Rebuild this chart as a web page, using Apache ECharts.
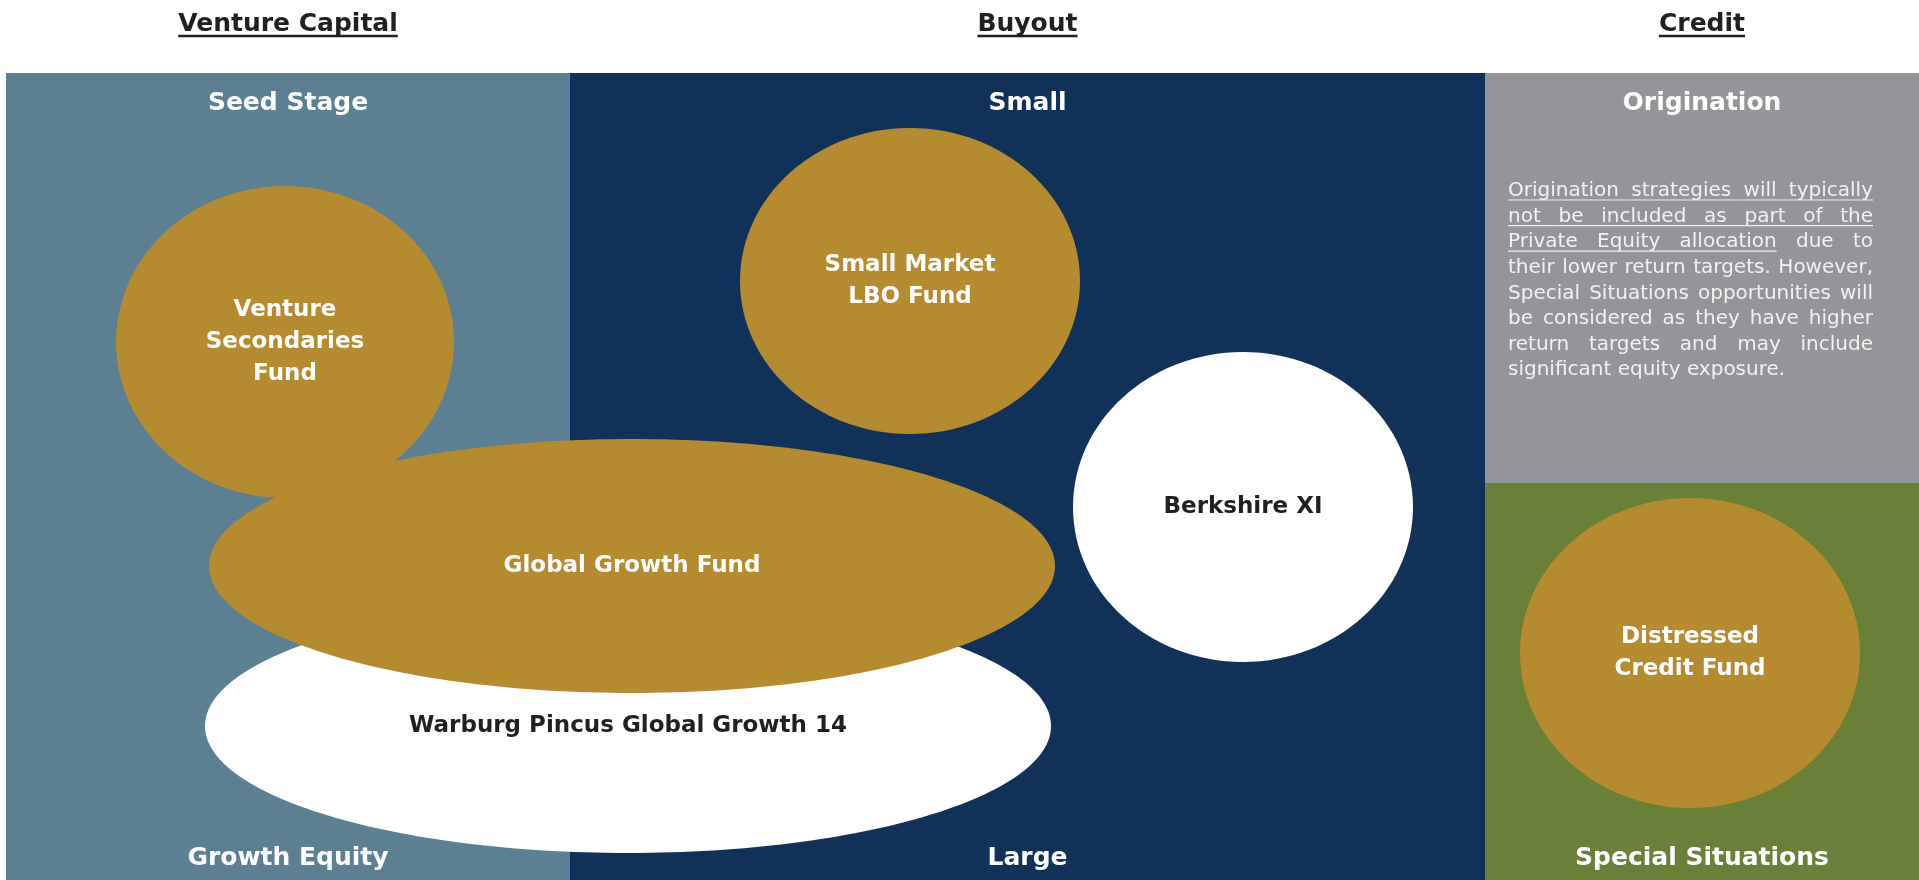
<!DOCTYPE html>
<html>
<head>
<meta charset="utf-8">
<title>Private Equity strategy map</title>
<script src="https://cdn.jsdelivr.net/npm/echarts@6/dist/echarts.min.js"></script>
<style>
  html, body { margin: 0; padding: 0; background: #fff; }
  #main { width: 1919px; height: 880px; }
</style>
</head>
<body>
<div id="main"></div>
<script>
// page units: x 0-1919, y 0-880 (top down)
const columns = ['Venture Capital', 'Buyout', 'Credit']
const columnEdges = [6, 570, 1485, 1919]

// background blocks: which column, top, bottom
const blockColumn = [0, 1, 2, 2]
const blockTop = [73, 73, 73, 483]
const blockBottom = [880, 880, 483, 880]

const topLabels = ['Seed Stage', 'Small', 'Origination']
const bottomLabels = ['Growth Equity', 'Large', 'Special Situations']

// funds in drawing order (later ones sit on top)
const funds = ['Venture\nSecondaries\nFund', 'Warburg Pincus Global Growth 14', 'Global Growth Fund', 'Small Market\nLBO Fund', 'Berkshire XI', 'Distressed\nCredit Fund']
const fundX = [285, 628, 632, 910, 1243, 1690]
const fundY = [342, 726, 566, 281, 507, 653]
const fundRX = [169, 423, 423, 170, 170, 170]
const fundRY = [156, 127, 127, 153, 155, 155]
const fundExisting = [false, true, false, false, true, false]

const originationLines = [
  'Origination strategies will typically',
  'not be included as part of the',
  'Private Equity allocation due to',
  'their lower return targets. However,',
  'Special Situations opportunities will',
  'be considered as they have higher',
  'return targets and may include',
  'significant equity exposure.'
]
const underlinedWords = 14

// styles
const FONT = '"DejaVu Sans", Verdana, sans-serif'
const blockColors = ['#5b7f93', '#10325a', '#939598', '#6a7f37']
const GOLD = '#b68b2f'
const DARK = '#231f20'
const titleY = 24
const topLabelY = 103
const bottomLabelY = 858
const paraLeft = 1508
const paraRight = 1873
const paraTop = 191
const paraStep = 25.6
const paraSize = 20

const measureCtx = document.createElement('canvas').getContext('2d')
function textWidth(text, size, weight) {
  measureCtx.font = (weight || 'normal') + ' ' + size + 'px ' + FONT
  return measureCtx.measureText(text).width
}

function renderBlock(params, api) {
  const col = api.value(0)
  const tl = api.coord([columnEdges[col], api.value(1)])
  const br = api.coord([columnEdges[col + 1], api.value(2)])
  return {
    type: 'rect',
    shape: { x: tl[0], y: tl[1], width: br[0] - tl[0], height: br[1] - tl[1] },
    style: { fill: blockColors[params.dataIndex] }
  }
}

function renderFund(params, api) {
  const i = params.dataIndex
  const c = api.coord([api.value(0), api.value(1)])
  const s = api.size([api.value(2), api.value(3)], [api.value(0), api.value(1)])
  const existing = fundExisting[i]
  return {
    type: 'group',
    children: [{
      type: 'ellipse',
      shape: { cx: c[0], cy: c[1], rx: s[0], ry: s[1] },
      style: { fill: existing ? '#ffffff' : GOLD },
      z2: i * 2
    }, {
      type: 'text',
      x: c[0],
      y: c[1],
      z2: i * 2 + 1,
      style: {
        text: funds[i],
        align: 'center',
        verticalAlign: 'middle',
        fontFamily: FONT,
        fontWeight: 'bold',
        fontSize: 23,
        lineHeight: 32,
        fill: existing ? DARK : '#ffffff'
      }
    }]
  }
}

function renderColumnText(params, api) {
  const col = api.value(0)
  const cx = (columnEdges[col] + columnEdges[col + 1]) / 2
  const pTitle = api.coord([cx, titleY])
  const pTop = api.coord([cx, topLabelY])
  const pBottom = api.coord([cx, bottomLabelY])
  const w = textWidth(columns[col], 25, 'bold')
  const label = (text, p, size, color) => ({
    type: 'text',
    x: p[0],
    y: p[1],
    z2: 50,
    style: {
      text: text, align: 'center', verticalAlign: 'middle',
      fontFamily: FONT, fontWeight: 'bold', fontSize: size, fill: color
    }
  })
  return {
    type: 'group',
    children: [
      label(columns[col], pTitle, 25, DARK),
      {
        type: 'line',
        shape: { x1: pTitle[0] - w / 2, y1: pTitle[1] + 12, x2: pTitle[0] + w / 2, y2: pTitle[1] + 12 },
        style: { stroke: DARK, lineWidth: 2.5 }
      },
      label(topLabels[col], pTop, 25, '#ffffff'),
      label(bottomLabels[col], pBottom, 25, '#ffffff')
    ]
  }
}

// justified paragraph, one data item per line
const wordOffsets = []
originationLines.reduce((acc, line) => {
  wordOffsets.push(acc)
  return acc + line.split(' ').length
}, 0)

function renderParagraphLine(params, api) {
  const i = params.dataIndex
  const words = originationLines[i].split(' ')
  const start = api.coord([paraLeft, paraTop + i * paraStep])
  const end = api.coord([paraRight, paraTop + i * paraStep])
  const widths = words.map(w => textWidth(w, paraSize))
  const total = widths.reduce((a, b) => a + b, 0)
  const isLast = i === originationLines.length - 1
  const space = textWidth(' ', paraSize)
  const gap = isLast || words.length < 2 ? space : Math.max(space * 0.5, (end[0] - start[0] - total) / (words.length - 1))
  const children = []
  let x = start[0]
  words.forEach((word, k) => {
    children.push({
      type: 'text',
      x: x,
      y: start[1],
      z2: 60,
      style: {
        text: word, align: 'left', verticalAlign: 'middle',
        fontFamily: FONT, fontSize: paraSize, fill: '#f2f2f2'
      }
    })
    const idx = wordOffsets[i] + k
    if (idx < underlinedWords) {
      const nextUnderlined = idx + 1 < underlinedWords && k < words.length - 1
      const x2 = x + widths[k] + (nextUnderlined ? gap : 0)
      children.push({
        type: 'line',
        z2: 60,
        shape: { x1: x, y1: start[1] + 9, x2: x2, y2: start[1] + 9 },
        style: { stroke: '#f2f2f2', lineWidth: 1.2 }
      })
    }
    x += widths[k] + gap
  })
  return { type: 'group', children: children }
}

const chart = echarts.init(document.getElementById('main'))

const option = {
  animation: false,
  backgroundColor: '#ffffff',
  grid: { left: 0, right: 0, top: 0, bottom: 0 },
  xAxis: { type: 'value', min: 0, max: 1919, show: false },
  yAxis: { type: 'value', min: 0, max: 880, inverse: true, show: false },
  tooltip: { show: false },
  series: [{
    type: 'custom',
    name: 'blocks',
    silent: true,
    clip: false,
    renderItem: renderBlock,
    data: blockColumn.map((c, i) => [c, blockTop[i], blockBottom[i]]),
    z: 1
  }, {
    type: 'custom',
    name: 'funds',
    silent: true,
    clip: false,
    renderItem: renderFund,
    data: funds.map((name, i) => [fundX[i], fundY[i], fundRX[i], fundRY[i]]),
    z: 2
  }, {
    type: 'custom',
    name: 'column text',
    silent: true,
    clip: false,
    renderItem: renderColumnText,
    data: columns.map((name, i) => [i, 0]),
    z: 3
  }, {
    type: 'custom',
    name: 'origination note',
    silent: true,
    clip: false,
    renderItem: renderParagraphLine,
    data: originationLines.map((line, i) => [paraLeft, paraTop + i * paraStep]),
    z: 4
  }]
}

option && chart.setOption(option)
</script>
</body>
</html>
